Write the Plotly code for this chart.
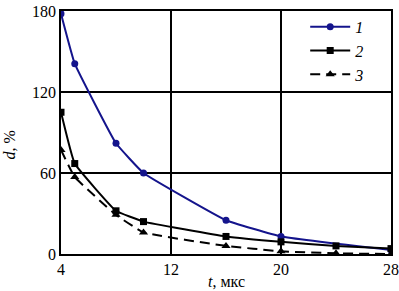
import plotly.graph_objects as go

t = [4, 5, 8, 10, 16, 20, 24, 28]
d1 = [178, 141, 82, 60, 25, 13, 7, 3]
d2 = [105, 67, 32, 24, 13, 9, 6, 4]
d3 = [77, 57, 29, 16, 6, 2, 0.5, 0]
names = ["1", "2", "3"]
xticks = [4, 12, 20, 28]
yticks = [0, 60, 120, 180]

SERIF = "Liberation Serif"

fig = go.Figure()
fig.add_trace(go.Scatter(x=t[:5] + t[5:6] + t[7:], y=d1[:5] + d1[5:6] + d1[7:], mode="lines+markers",
                         name="<i>" + names[0] + "</i>",
                         line=dict(color="#14148c", width=2, shape="spline", smoothing=0.3),
                         marker=dict(symbol="circle", size=7, color="#14148c")))
fig.add_trace(go.Scatter(x=t, y=d2, mode="lines+markers",
                         name="<i>" + names[1] + "</i>",
                         line=dict(color="black", width=2, shape="spline", smoothing=0.3),
                         marker=dict(symbol="square", size=7, color="black")))
fig.add_trace(go.Scatter(x=t, y=d3, mode="lines+markers",
                         name="<i>" + names[2] + "</i>",
                         line=dict(color="black", width=2, dash="10px,6px", shape="spline", smoothing=0.3),
                         marker=dict(symbol="triangle-up", size=8, color="black")))

fig.update_layout(
    width=399, height=291,
    margin=dict(l=61, r=8, t=11, b=37, autoexpand=False),
    paper_bgcolor="white", plot_bgcolor="white",
    font=dict(family=SERIF, size=16, color="black"),
    showlegend=True,
    legend=dict(x=0.74, y=1.005, xanchor="left", yanchor="top",
                bgcolor="rgba(0,0,0,0)", borderwidth=0,
                font=dict(family=SERIF, size=16, color="black"),
                tracegroupgap=0, itemwidth=40),
    annotations=[
        dict(text="<i>t</i>, мкс", xref="paper", yref="paper", x=0.5, y=-0.115,
             xanchor="center", yanchor="middle", showarrow=False,
             font=dict(family=SERIF, size=16, color="black")),
        dict(text="<i>d</i>, %", xref="paper", yref="paper", x=-0.155, y=0.45,
             xanchor="center", yanchor="middle", showarrow=False, textangle=-90,
             font=dict(family=SERIF, size=16, color="black")),
    ],
)
fig.update_xaxes(range=[4, 28], tickvals=xticks, ticktext=[str(v) for v in xticks],
                 showgrid=True, gridcolor="black", gridwidth=1.5,
                 showline=True, linecolor="black", linewidth=1.5, mirror=True,
                 zeroline=False, ticks="", ticklen=0, automargin=False,
                 ticklabeloverflow="allow", tickfont=dict(family=SERIF, size=16, color="black"))
fig.update_yaxes(range=[0, 180], tickvals=yticks, ticktext=[str(v) for v in yticks],
                 showgrid=True, gridcolor="black", gridwidth=1.5,
                 showline=True, linecolor="black", linewidth=1.5, mirror=True,
                 zeroline=False, ticks="", ticklen=0, automargin=False,
                 tickfont=dict(family=SERIF, size=16, color="black"))

fig.write_html("out.html", config={"displayModeBar": False},
               post_script="document.body.style.margin='0';document.body.style.overflow='hidden';")
